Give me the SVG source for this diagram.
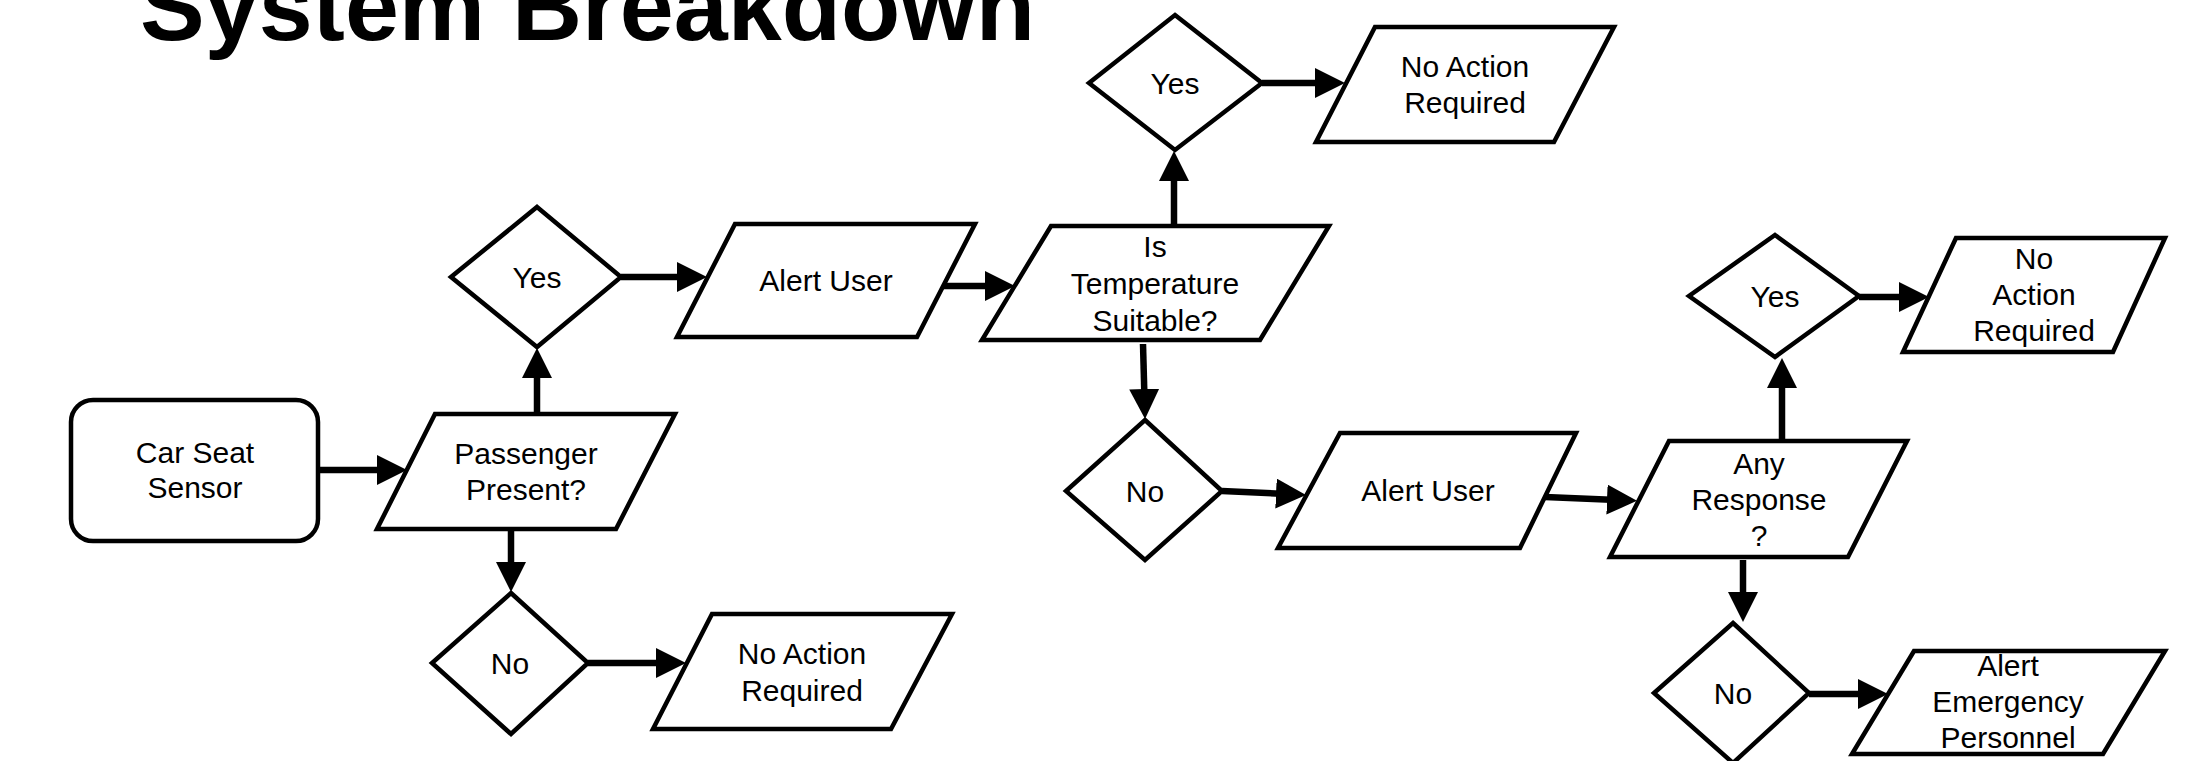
<svg xmlns="http://www.w3.org/2000/svg" width="2194" height="761" viewBox="0 0 2194 761">
<defs>
<style>
.shape{fill:#fff;stroke:#000;stroke-width:4.5;stroke-linejoin:miter}
.lbl{font-family:"Liberation Sans",Arial,sans-serif;font-size:30px;fill:#000;text-anchor:middle}
.title{font-family:"Liberation Sans",Arial,sans-serif;font-size:97px;font-weight:bold;fill:#000}
.conn{fill:none;stroke:#000;stroke-width:6.5}
</style>
<marker id="arr" markerUnits="userSpaceOnUse" markerWidth="30" markerHeight="30" refX="10" refY="15" orient="auto" viewBox="0 0 30 30">
<path d="M0,0 L30,15 L0,30 z" fill="#000"/>
</marker>
</defs>
<rect width="2194" height="761" fill="#fff"/>
<text class="title" x="140" y="40">System Breakdown</text>

<g id="connectors">
<line class="conn" x1="319" y1="470" x2="387" y2="470" marker-end="url(#arr)"/>
<line class="conn" x1="537" y1="414" x2="537" y2="368" marker-end="url(#arr)"/>
<line class="conn" x1="621" y1="277" x2="687" y2="277" marker-end="url(#arr)"/>
<line class="conn" x1="511" y1="529" x2="511" y2="572" marker-end="url(#arr)"/>
<line class="conn" x1="588" y1="663" x2="666" y2="663" marker-end="url(#arr)"/>
<line class="conn" x1="943" y1="286" x2="995" y2="286" marker-end="url(#arr)"/>
<line class="conn" x1="1174" y1="226" x2="1174" y2="171" marker-end="url(#arr)"/>
<line class="conn" x1="1262" y1="83" x2="1325" y2="83" marker-end="url(#arr)"/>
<line class="conn" x1="1143" y1="344" x2="1144.5" y2="399" marker-end="url(#arr)"/>
<line class="conn" x1="1222" y1="491" x2="1286" y2="494" marker-end="url(#arr)"/>
<line class="conn" x1="1545" y1="497" x2="1617" y2="500" marker-end="url(#arr)"/>
<line class="conn" x1="1782" y1="441" x2="1782" y2="378" marker-end="url(#arr)"/>
<line class="conn" x1="1859" y1="297" x2="1909" y2="297" marker-end="url(#arr)"/>
<line class="conn" x1="1743" y1="560" x2="1743" y2="602" marker-end="url(#arr)"/>
<line class="conn" x1="1809" y1="694" x2="1868" y2="694" marker-end="url(#arr)"/>
</g>

<g id="car-seat-sensor">
<rect class="shape" x="71" y="400" width="247" height="141" rx="22"/>
<text class="lbl" x="195" y="463">Car Seat</text>
<text class="lbl" x="195" y="498">Sensor</text>
</g>

<g id="passenger-present">
<polygon class="shape" points="435,414 675,414 616,529 377,529"/>
<text class="lbl" x="526" y="464">Passenger</text>
<text class="lbl" x="526" y="500">Present?</text>
</g>

<g id="yes-1">
<polygon class="shape" points="537,207 621,277 537,347 451,277"/>
<text class="lbl" x="537" y="288">Yes</text>
</g>

<g id="no-1">
<polygon class="shape" points="511,593 588,663 511,734 432,663"/>
<text class="lbl" x="510" y="674">No</text>
</g>

<g id="no-action-1">
<polygon class="shape" points="712,614 952,614 891,729 653,729"/>
<text class="lbl" x="802" y="664">No Action</text>
<text class="lbl" x="802" y="701">Required</text>
</g>

<g id="alert-user-1">
<polygon class="shape" points="735,224 975,224 917,337 677,337"/>
<text class="lbl" x="826" y="291">Alert User</text>
</g>

<g id="temperature-suitable">
<polygon class="shape" points="1051,226 1329,226 1260,340 982,340"/>
<text class="lbl" x="1155" y="257">Is</text>
<text class="lbl" x="1155" y="294">Temperature</text>
<text class="lbl" x="1155" y="331">Suitable?</text>
</g>

<g id="yes-2">
<polygon class="shape" points="1175,15 1262,83 1175,150 1089,83"/>
<text class="lbl" x="1175" y="94">Yes</text>
</g>

<g id="no-action-2">
<polygon class="shape" points="1375,27 1614,27 1554,142 1316,142"/>
<text class="lbl" x="1465" y="77">No Action</text>
<text class="lbl" x="1465" y="113">Required</text>
</g>

<g id="no-2">
<polygon class="shape" points="1145,420 1222,491 1145,560 1066,491"/>
<text class="lbl" x="1145" y="502">No</text>
</g>

<g id="alert-user-2">
<polygon class="shape" points="1340,433 1576,433 1520,548 1278,548"/>
<text class="lbl" x="1428" y="501">Alert User</text>
</g>

<g id="any-response">
<polygon class="shape" points="1669,441 1907,441 1848,557 1610,557"/>
<text class="lbl" x="1759" y="474">Any</text>
<text class="lbl" x="1759" y="510">Response</text>
<text class="lbl" x="1759" y="546">?</text>
</g>

<g id="yes-3">
<polygon class="shape" points="1775,235 1859,296 1775,357 1689,296"/>
<text class="lbl" x="1775" y="307">Yes</text>
</g>

<g id="no-action-3">
<polygon class="shape" points="1956,238 2165,238 2113,352 1903,352"/>
<text class="lbl" x="2034" y="269">No</text>
<text class="lbl" x="2034" y="305">Action</text>
<text class="lbl" x="2034" y="341">Required</text>
</g>

<g id="no-3">
<polygon class="shape" points="1733,623 1809,693 1733,763 1654,693"/>
<text class="lbl" x="1733" y="704">No</text>
</g>

<g id="alert-emergency">
<polygon class="shape" points="1914,651 2165,651 2103,754 1852,754"/>
<text class="lbl" x="2008" y="676">Alert</text>
<text class="lbl" x="2008" y="712">Emergency</text>
<text class="lbl" x="2008" y="748">Personnel</text>
</g>
</svg>
